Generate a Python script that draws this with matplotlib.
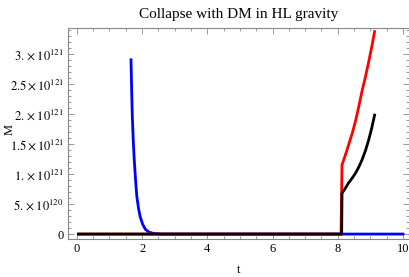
import matplotlib
matplotlib.use("Agg")
import matplotlib.pyplot as plt
from matplotlib.ticker import MultipleLocator

plt.rcParams['font.family'] = 'Liberation Serif'
plt.rcParams['mathtext.fontset'] = 'stix'

# values in units of 1e121
blue_t = [1.66, 1.68, 1.70, 1.73, 1.76, 1.80, 1.84, 1.89, 1.94, 2.02, 2.1, 2.2, 2.35, 2.6, 10.0]
blue_M = [2.9, 2.4, 1.96, 1.55, 1.23, 0.9, 0.62, 0.43, 0.29, 0.16, 0.08, 0.035, 0.01, 0.0, 0.0]

red_t = [0.05, 8.1, 8.13, 8.23, 8.33, 8.44, 8.54, 8.64, 8.74, 8.85, 8.95, 9.04, 9.13]
red_M = [0.0, 0.0, 1.15, 1.31, 1.48, 1.67, 1.87, 2.11, 2.37, 2.62, 2.87, 3.11, 3.37]

black_t = [0.05, 8.12, 8.13, 8.23, 8.33, 8.44, 8.54, 8.64, 8.74, 8.85, 8.95, 9.04, 9.13]
black_M = [0.0, 0.0, 0.68, 0.76, 0.85, 0.93, 1.01, 1.11, 1.23, 1.39, 1.57, 1.76, 1.98]

y_ticks = [0, 0.5, 1.0, 1.5, 2.0, 2.5, 3.0]
y_labels = ['0', r'$5.\times10^{120}$', r'$1.\times10^{121}$', r'$1.5\times10^{121}$',
            r'$2.\times10^{121}$', r'$2.5\times10^{121}$', r'$3.\times10^{121}$']

fig = plt.figure(figsize=(4.1, 2.77), dpi=100)
ax = fig.add_axes([0.166, 0.137, 0.832, 0.762])

ax.plot(blue_t, blue_M, color='blue', lw=2)
ax.plot(red_t, red_M, color='red', lw=2)
ax.plot(black_t, black_M, color='black', lw=2)

ax.set_xlim(-0.27, 10.19)
ax.set_ylim(-0.083, 3.43)
ax.set_xticks([0, 2, 4, 6, 8, 10])
ax.xaxis.set_minor_locator(MultipleLocator(0.5))
ax.set_yticks(y_ticks)
ax.set_yticklabels(y_labels)
ax.yaxis.set_minor_locator(MultipleLocator(0.1))

for s in ax.spines.values():
    s.set_color('#888888')
    s.set_linewidth(0.8)
ax.tick_params(which='both', direction='in', top=True, right=True, color='#888888',
               labelsize=9, width=0.6)
ax.tick_params(which='major', length=4, pad=3)
ax.tick_params(which='minor', length=2)

ax.set_title('Collapse with DM in HL gravity', fontsize=11, pad=7)
ax.set_xlabel('t', fontsize=9, labelpad=6)
ax.set_ylabel('M', fontsize=9)
ax.yaxis.set_label_coords(-0.155, 0.52)

fig.savefig('out.png', dpi=100)
